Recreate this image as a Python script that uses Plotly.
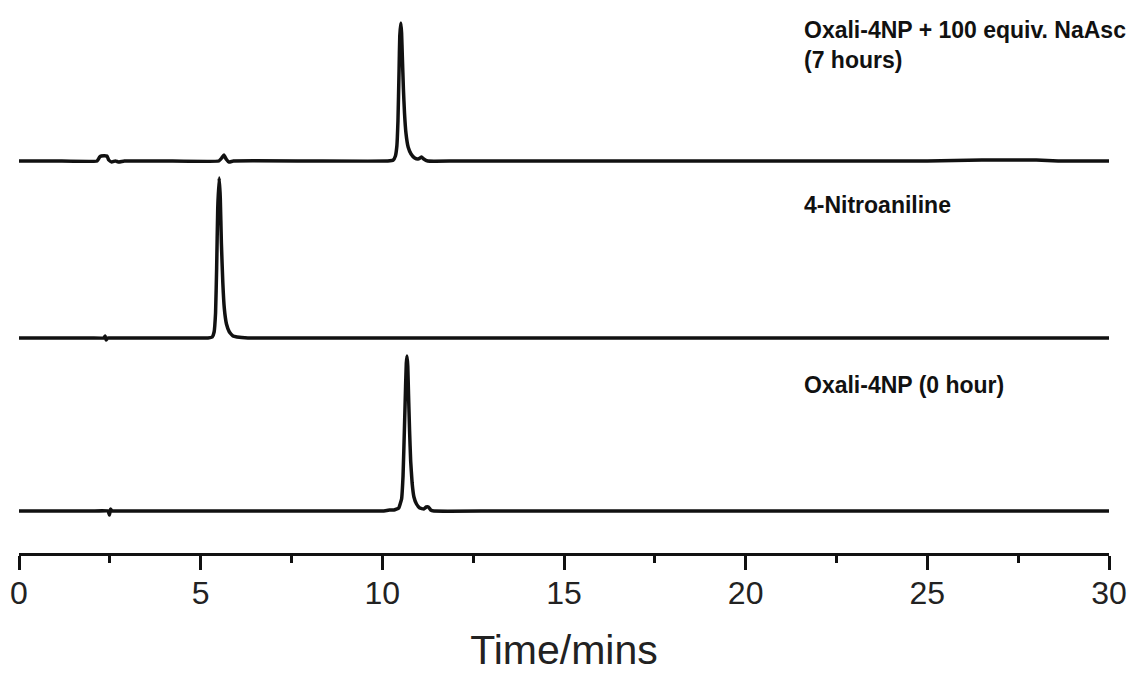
import plotly.graph_objects as go

# Retention time (min) and detector signal for each chromatogram
t_nasc = [0, 1.0, 2.15, 2.22, 2.26, 2.42, 2.47, 2.55, 2.65, 2.75, 2.9, 4.0,
          5.5, 5.58, 5.64, 5.70, 5.78, 5.9, 8.0,
          10.15, 10.30, 10.36, 10.40, 10.43, 10.46, 10.48, 10.51, 10.53, 10.55,
          10.58, 10.61, 10.65, 10.71, 10.79, 10.89, 10.98, 11.04, 11.08, 11.14,
          11.25, 12.0, 16.0, 20.0, 25.0, 26.5, 28.0, 28.6, 30.0]
s_nasc = [0, 0, 0, 4, 5, 5, 1, -1, 0, -1, 0, 0,
          0, 3, 6, 2, -1, 0, 0,
          0, 1, 5, 15, 40, 90, 125, 138, 128, 105,
          72, 48, 28, 14, 7, 3, 2, 3, 4, 2,
          0, 0, 0, 0, 0, 1, 1, 0, 0]

t_pna = [0, 1.0, 2.0, 2.33, 2.37, 2.40, 2.44, 2.5, 3.5,
         5.20, 5.32, 5.37, 5.41, 5.44, 5.47, 5.51, 5.54, 5.57, 5.61,
         5.65, 5.71, 5.79, 5.89, 6.0, 6.3, 8.0, 30.0]
s_pna = [0, 0, 0, 0, 2, -2, 0, 0, 0,
         0, 1, 6, 25, 70, 130, 160, 140, 95, 55,
         30, 14, 6, 2, 1, 0, 0, 0]

t_oxali = [0, 1.0, 2.0, 2.45, 2.49, 2.52, 2.56, 2.65, 4.0, 7.0,
           10.0, 10.2, 10.32, 10.45, 10.53, 10.57, 10.61, 10.64, 10.66, 10.68,
           10.70, 10.72, 10.75, 10.78, 10.82, 10.87, 10.94, 11.03, 11.14, 11.21,
           11.27, 11.33, 11.42, 13.0, 16.0, 30.0]
s_oxali = [0, 0, 0, 0, -4, 2, 0, 0, 0, 0,
           0, 1, 1, 3, 12, 35, 85, 125, 148, 155,
           145, 118, 80, 50, 28, 14, 7, 3, 2, 4,
           4, 1, 0, 0, 0, 0]

# Vertical stacking offsets of the three traces
offset_nasc = 392
offset_pna = 215
offset_oxali = 42

labels = ["Oxali-4NP + 100 equiv. NaAsc<br>(7 hours)",
          "4-Nitroaniline",
          "Oxali-4NP (0 hour)"]
label_x = 21.55
label_y = [508, 348, 168]

fig = go.Figure()
for t, s, off in [(t_nasc, s_nasc, offset_nasc),
                  (t_pna, s_pna, offset_pna),
                  (t_oxali, s_oxali, offset_oxali)]:
    fig.add_trace(go.Scatter(
        x=t, y=[v + off for v in s], mode="lines",
        line=dict(color="#111111", width=3.5, shape="spline", smoothing=0.3),
        showlegend=False, hoverinfo="skip"))

for txt, ly in zip(labels, label_y):
    fig.add_annotation(x=label_x, y=ly, xref="x", yref="y", text=f"<b>{txt}</b>",
                       showarrow=False, xanchor="left", yanchor="middle", align="left",
                       font=dict(family="Liberation Sans, Arial", size=23, color="#111111"))

fig.update_layout(
    width=1143, height=673,
    margin=dict(l=19, r=34, t=0, b=120),
    paper_bgcolor="white", plot_bgcolor="white",
    xaxis=dict(
        range=[0, 30], tickmode="linear", tick0=0, dtick=5,
        showgrid=False, zeroline=False,
        showline=True, linecolor="#111111", linewidth=2.5,
        ticks="outside", ticklen=14, tickwidth=2.5, tickcolor="#111111",
        minor=dict(tickmode="linear", dtick=2.5, tick0=0, ticks="outside", ticklen=7,
                   tickwidth=2.5, tickcolor="#111111", showgrid=False),
        ticklabelstandoff=-4,
        tickfont=dict(family="Liberation Sans, Arial", size=32, color="#222222"),
        title=dict(text="Time/mins", standoff=30,
                   font=dict(family="Liberation Sans, Arial", size=41, color="#222222")),
    ),
    yaxis=dict(range=[0, 553], visible=False, showgrid=False, zeroline=False),
)

fig.write_html("out.html")
